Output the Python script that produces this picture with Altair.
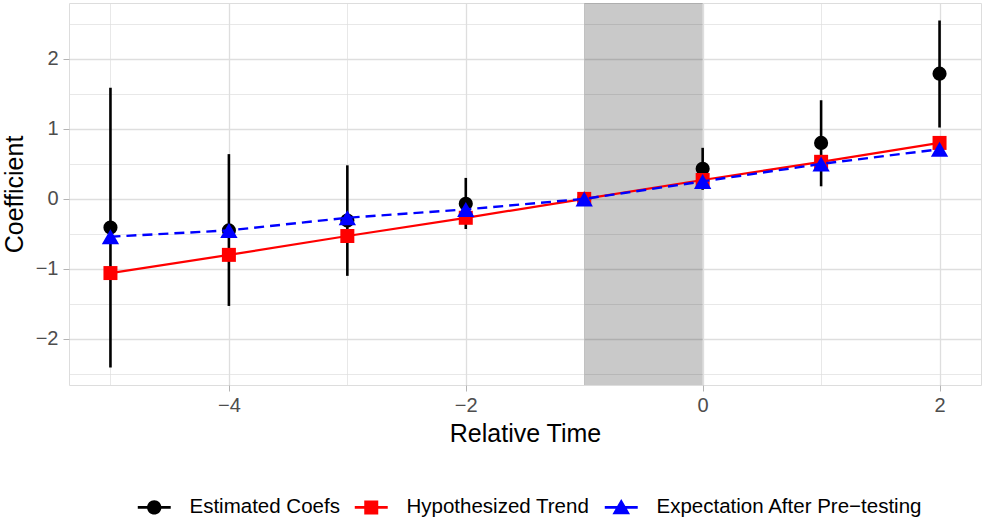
import altair as alt
import pandas as pd

# ---- data ----
rel_time = [-5, -4, -3, -2, -1, 0, 1, 2]
est_coef = [-0.41, -0.45, -0.31, -0.07, 0.0, 0.43, 0.80, 1.79]
ci_lo = [-2.41, -1.53, -1.10, -0.43, 0.0, 0.13, 0.18, 1.02]
ci_hi = [1.59, 0.64, 0.48, 0.30, 0.0, 0.73, 1.41, 2.55]
hyp_trend = [-1.06, -0.80, -0.53, -0.27, 0.0, 0.27, 0.53, 0.80]
expect_after = [-0.54, -0.45, -0.27, -0.15, 0.0, 0.25, 0.50, 0.71]

series_names = ["Estimated Coefs", "Hypothesized Trend", "Expectation After Pre\u2212testing"]
series_colors = ["black", "red", "blue"]

shade_start = [-1]
shade_end = [0]

x_break_vals = [-5, -4, -3, -2, -1, 0, 1, 2]
y_break_vals = [-2.5, -2, -1.5, -1, -0.5, 0, 0.5, 1, 1.5, 2, 2.5]
x_domain = [-5.35, 2.35]
y_domain = [-2.66, 2.80]

df = pd.DataFrame({"t": rel_time, "est": est_coef, "lo": ci_lo, "hi": ci_hi,
                   "trend": hyp_trend, "expect": expect_after})
shade = pd.DataFrame({"x1": shade_start, "x2": shade_end})
long_df = pd.concat([
    pd.DataFrame({"t": rel_time, "v": est_coef, "series": series_names[0]}),
    pd.DataFrame({"t": rel_time, "v": hyp_trend, "series": series_names[1]}),
    pd.DataFrame({"t": rel_time, "v": expect_after, "series": series_names[2]}),
])

FONT = "Liberation Sans"

# legend symbols: key line + point shape
bar = "M-2.06,-0.17H2.06V0.17H-2.06Z "
legend_paths = [
    bar + "M0.9,0A0.9,0.9,0,1,1,-0.9,0A0.9,0.9,0,1,1,0.9,0Z",
    bar + "M-0.875,-0.875H0.875V0.875H-0.875Z",
    bar + "M0,-1.05L1.1,0.85L-1.1,0.85Z",
]

x_axis = alt.Axis(
    values=x_break_vals,
    labelExpr="datum.value % 2 == 0 ? replace(format(datum.value, 'd'), '-', '\u2212') : ''",
    tickOpacity={"condition": {"test": "datum.value % 2 == 0", "value": 1}, "value": 0},
    gridWidth={"condition": {"test": "datum.value % 2 == 0", "value": 1.3}, "value": 0.7},
    grid=True, gridColor="#DEDEDE", domain=False,
    tickColor="#B3B3B3", tickSize=6, tickWidth=1,
    labelFontSize=20, labelColor="#4D4D4D", labelPadding=4, labelFont=FONT,
    titleFontSize=25, titleColor="black", titleFont=FONT, titleFontWeight="normal",
    titlePadding=6,
)
y_axis = alt.Axis(
    values=y_break_vals,
    labelExpr="datum.value % 1 == 0 ? replace(format(datum.value, 'd'), '-', '\u2212') : ''",
    tickOpacity={"condition": {"test": "datum.value % 1 == 0", "value": 1}, "value": 0},
    gridWidth={"condition": {"test": "datum.value % 1 == 0", "value": 1.3}, "value": 0.7},
    grid=True, gridColor="#DEDEDE", domain=False,
    tickColor="#B3B3B3", tickSize=6, tickWidth=1,
    labelFontSize=20, labelColor="#4D4D4D", labelPadding=5, labelFont=FONT,
    titleFontSize=25, titleColor="black", titleFont=FONT, titleFontWeight="normal",
    titlePadding=8,
)

xs = alt.Scale(domain=x_domain, nice=False, zero=False)
ys = alt.Scale(domain=y_domain, nice=False, zero=False)


def X(field):
    return alt.X(field, type="quantitative", scale=xs, axis=x_axis, title="Relative Time")


def Y(field):
    return alt.Y(field, type="quantitative", scale=ys, axis=y_axis, title="Coefficient")


base = alt.Chart(df)

rect = alt.Chart(shade).mark_rect(color="black", opacity=0.21).encode(
    x=X("x1"), x2="x2:Q"
)
errbars = base.mark_rule(color="black", strokeWidth=2.6).encode(
    x=X("t"), y=Y("lo"), y2="hi:Q"
)
est_pts = base.mark_point(shape="circle", filled=True, color="black", size=200, opacity=1).encode(
    x=X("t"), y=Y("est")
)
trend_line = base.mark_line(color="red", strokeWidth=2.2).encode(x=X("t"), y=Y("trend"))
trend_pts = base.mark_point(shape="square", filled=True, color="red", size=196, opacity=1).encode(
    x=X("t"), y=Y("trend")
)
exp_line = base.mark_line(color="blue", strokeWidth=2.4, strokeDash=[10, 6]).encode(
    x=X("t"), y=Y("expect")
)
exp_pts = base.mark_point(shape="triangle-up", filled=True, color="blue", size=300, opacity=1).encode(
    x=X("t"), y=Y("expect")
)

leg_props = dict(
    title=None, orient="none", direction="horizontal",
    legendX=75, legendY=494, padding=0,
    labelFontSize=20.5, labelColor="black", labelFont=FONT, labelLimit=0,
    symbolSize=256, symbolStrokeWidth=0, labelOffset=25, columnPadding=14,
)
legend_layer = alt.Chart(long_df).transform_filter("false").mark_point(filled=True, opacity=1).encode(
    x=X("t"), y=Y("v"),
    color=alt.Color("series:N", scale=alt.Scale(domain=series_names, range=series_colors),
                    legend=alt.Legend(**leg_props)),
    shape=alt.Shape("series:N", scale=alt.Scale(domain=series_names, range=legend_paths),
                    legend=alt.Legend(**leg_props)),
)

chart = alt.layer(
    rect, errbars, est_pts, trend_line, trend_pts, exp_line, exp_pts, legend_layer
).properties(
    width=912, height=382,
    autosize=alt.AutoSizeParams(type="none"),
    padding={"left": 69, "top": 3, "right": 2, "bottom": 133},
    background="white",
).configure_view(
    stroke="#B3B3B3", strokeWidth=1.3
).configure(font=FONT)

chart.save("out.html", embed_options={"renderer": "svg", "actions": False})
